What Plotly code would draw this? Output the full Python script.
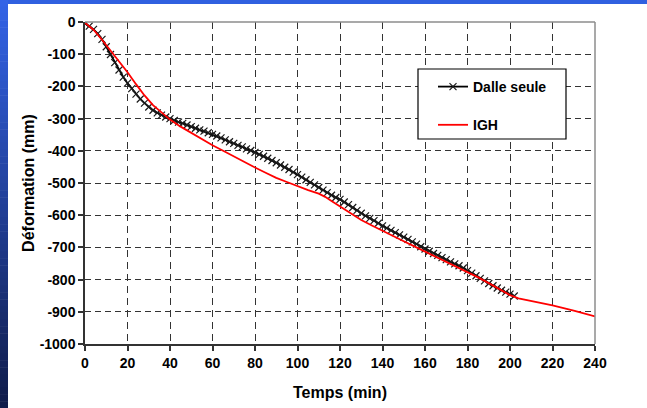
import plotly.graph_objects as go

# ---- data -------------------------------------------------------------
# Slab alone ("Dalle seule"): deflection every 2 minutes
dalle_t = [0, 2, 4, 6, 8, 10, 12, 14, 16, 18, 20, 22, 24, 26, 28, 30, 32, 34, 36, 38,
           40, 42, 44, 46, 48, 50, 52, 54, 56, 58, 60, 62, 64, 66, 68, 70, 72, 74, 76, 78,
           80, 82, 84, 86, 88, 90, 92, 94, 96, 98, 100, 102, 104, 106, 108, 110, 112, 114,
           116, 118, 120, 122, 124, 126, 128, 130, 132, 134, 136, 138, 140, 142, 144, 146,
           148, 150, 152, 154, 156, 158, 160, 162, 164, 166, 168, 170, 172, 174, 176, 178,
           180, 182, 184, 186, 188, 190, 192, 194, 196, 198, 200, 202]
dalle_d = [-4, -13, -23, -36, -54, -77, -101, -126, -149, -171, -190, -207, -224, -239, -252,
           -264, -274, -282, -289, -295, -300, -306, -311, -315, -320, -325, -330, -335, -339,
           -344, -349, -354, -360, -366, -372, -377, -383, -388, -394, -399, -405, -411, -417,
           -423, -430, -437, -444, -451, -458, -466, -474, -482, -490, -498, -506, -514, -522,
           -530, -538, -545, -551, -559, -567, -576, -585, -594, -602, -610, -617, -625, -633,
           -640, -647, -654, -661, -668, -675, -683, -690, -698, -705, -712, -719, -725, -732,
           -738, -745, -751, -757, -764, -772, -780, -788, -796, -804, -812, -819, -826, -833,
           -839, -845, -851]

# IGH calculation
igh_t = [0, 4, 8, 12, 16, 20, 24, 28, 32, 36, 40, 45, 50, 55, 60, 65, 70, 75, 80, 85, 90,
         95, 100, 105, 110, 113, 116, 120, 125, 130, 135, 140, 145, 150, 155, 160, 165, 170,
         175, 180, 185, 190, 195, 200, 204, 210, 220, 230, 240]
igh_d = [-3, -24, -55, -88, -121, -156, -193, -228, -258, -282, -303, -325, -345, -365, -383,
         -400, -418, -435, -452, -468, -484, -497, -510, -522, -533, -543, -556, -573, -595,
         -615, -632, -649, -665, -681, -697, -713, -729, -745, -760, -776, -793, -811, -830,
         -848, -858, -866, -880, -896, -914]

x_ticks = [0, 20, 40, 60, 80, 100, 120, 140, 160, 180, 200, 220, 240]
y_ticks = [0, -100, -200, -300, -400, -500, -600, -700, -800, -900, -1000]

# ---- page geometry ------------------------------------------------------
W, H = 647, 408
ML, MR, MT, MB = 85, 52, 22, 64
PW, PH = W - ML - MR, H - MT - MB


def px_x(px):
    return (px - ML) / PW


def px_y(py):
    return 1 - (py - MT) / PH


FONT = "Liberation Sans, Arial, sans-serif"

fig = go.Figure()

fig.add_trace(go.Scatter(
    x=dalle_t, y=dalle_d, name="Dalle seule", mode="lines+markers",
    legendgroup="a",
    line=dict(color="black", width=1.8),
    marker=dict(symbol="x-thin", size=7, color="black",
                line=dict(color="#1a1a1a", width=1.2)),
))
fig.add_trace(go.Scatter(
    x=igh_t, y=igh_d, name="IGH", mode="lines", legendgroup="b",
    line=dict(color="#ff0000", width=1.8),
))

shapes = []
# blue frame: top band and left band with a vertical gradient
shapes.append(dict(type="rect", xref="paper", yref="paper",
                   x0=px_x(0), x1=px_x(W), y0=px_y(0), y1=px_y(4),
                   fillcolor="#3060e0", line=dict(width=0), layer="below"))
n = 60
top = (0x33, 0x63, 0xe6)
bot = (0x10, 0x1c, 0x4a)
for i in range(n):
    f = i / (n - 1)
    c = tuple(round(top[k] + (bot[k] - top[k]) * f) for k in range(3))
    shapes.append(dict(type="rect", xref="paper", yref="paper",
                       x0=px_x(0), x1=px_x(8),
                       y0=px_y(H * i / n), y1=px_y(H * (i + 1) / n + 0.5),
                       fillcolor="rgb(%d,%d,%d)" % c, line=dict(width=0),
                       layer="below"))
# light top and right frame of the plot area
shapes.append(dict(type="line", xref="paper", yref="paper", x0=0, x1=1, y0=1, y1=1,
                   line=dict(color="#8c8c8c", width=1.5)))
shapes.append(dict(type="line", xref="paper", yref="paper", x0=1, x1=1, y0=0, y1=1,
                   line=dict(color="#8c8c8c", width=1.5)))
# legend frame
shapes.append(dict(type="rect", xref="paper", yref="paper",
                   x0=px_x(418), x1=px_x(566), y0=px_y(139), y1=px_y(69),
                   fillcolor="white", line=dict(color="black", width=1.2),
                   layer="above"))

fig.update_layout(
    width=W, height=H, autosize=False,
    margin=dict(l=ML, r=MR, t=MT, b=MB),
    paper_bgcolor="white", plot_bgcolor="white",
    font=dict(family=FONT, size=14, color="black", weight="bold"),
    shapes=shapes,
    showlegend=True,
    legend=dict(
        x=px_x(419), y=px_y(71), xanchor="left", yanchor="top",
        bgcolor="rgba(0,0,0,0)", borderwidth=0,
        font=dict(family=FONT, size=14, color="black", weight="bold"),
        traceorder="grouped", tracegroupgap=17, indentation=14,
    ),
    xaxis=dict(
        range=[0, 240], tickvals=x_ticks, ticktext=[str(v) for v in x_ticks],
        showline=True, linecolor="#333333", linewidth=1.5,
        ticks="outside", ticklen=5, tickcolor="#333333", tickwidth=1.5,
        showgrid=True, gridcolor="#333333", gridwidth=1, griddash="7px,5px",
        zeroline=False, automargin=False,
        tickfont=dict(family=FONT, size=14, weight="bold"),
        title=dict(text="Temps (min)", standoff=17,
                   font=dict(family=FONT, size=16, weight="bold")),
    ),
    yaxis=dict(
        range=[-1000, 0], tickvals=y_ticks, ticktext=[str(v) for v in y_ticks],
        showline=True, linecolor="#333333", linewidth=1.5,
        ticks="outside", ticklen=5, tickcolor="#333333", tickwidth=1.5,
        showgrid=True, gridcolor="#333333", gridwidth=1, griddash="6px,4px",
        zeroline=False, automargin=False,
        tickfont=dict(family=FONT, size=14, weight="bold"),
        title=dict(text="Déformation (mm)", standoff=1,
                   font=dict(family=FONT, size=16, weight="bold")),
    ),
)

fig.write_html("out.html")
